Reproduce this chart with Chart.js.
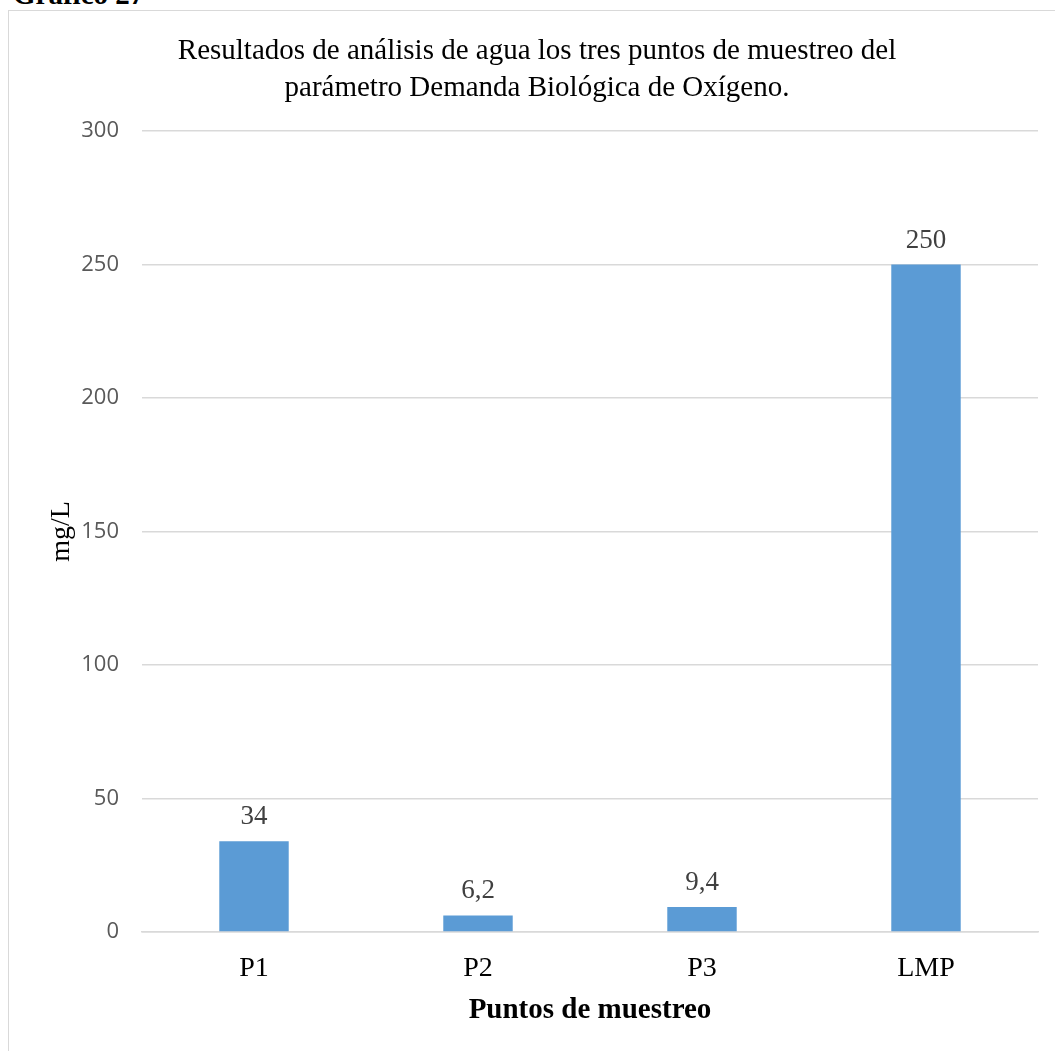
<!DOCTYPE html>
<html>
<head>
<meta charset="utf-8">
<script src="https://cdn.jsdelivr.net/npm/chart.js@4.4.0/dist/chart.umd.min.js"></script>
<style>
  html, body { margin: 0; padding: 0; background: #fff; overflow: hidden; width: 1055px; height: 1051px; }
  #heading { position: absolute; left: 13px; top: -20px; font: bold 29px "Liberation Serif", "Times New Roman", serif; line-height: 29px; color: #000; white-space: nowrap; }
  #frame { position: absolute; left: 8px; top: 10px; border-left: 1px solid #d9d9d9; border-top: 1px solid #d9d9d9; width: 1056px; height: 1040px; }
  #frame canvas { display: block; }
</style>
</head>
<body>
<div id="heading">Gráfico 27</div>
<div id="frame"><canvas id="bar-chart" width="1056" height="1040"></canvas></div>
<script>
var categories = ["P1", "P2", "P3", "LMP"];
var dboValues = [34, 6.2, 9.4, 250];
var yTicks = [0, 50, 100, 150, 200, 250, 300];
var chartTitle = ["Resultados de análisis de agua los tres puntos de muestreo del", "parámetro Demanda Biológica de Oxígeno."];

var serif = "'Liberation Serif', 'Times New Roman', serif";

// value labels above each bar, decimal comma like the original
var barLabels = {
  id: "barLabels",
  afterDatasetsDraw: function(chart) {
    var ctx = chart.ctx;
    var meta = chart.getDatasetMeta(0);
    ctx.save();
    ctx.font = "27px " + serif;
    ctx.fillStyle = "#404040";
    ctx.textAlign = "center";
    ctx.textBaseline = "alphabetic";
    meta.data.forEach(function(bar, i) {
      var txt = String(dboValues[i]).replace(".", ",");
      ctx.fillText(txt, bar.x, bar.y - 17);
    });
    ctx.restore();
  }
};

var config = {
  type: "bar",
  data: {
    labels: categories,
    datasets: [
      {
        data: dboValues,
        backgroundColor: "#5b9bd5",
        borderWidth: 0,
        categoryPercentage: 1,
        barPercentage: 0.31
      }
    ]
  },
  options: {
    responsive: false,
    animation: false,
    layout: { padding: { left: 27, right: 27, top: 0, bottom: 0 } },
    plugins: {
      legend: { display: false },
      tooltip: { enabled: false },
      title: {
        display: true,
        text: chartTitle,
        color: "#000",
        font: { family: serif, size: 29, weight: "normal", lineHeight: 1.276 },
        padding: { top: 22, bottom: 24 }
      }
    },
    scales: {
      x: {
        afterFit: function(scale) { scale.height = 119; },
        grid: { display: false, drawTicks: false },
        border: { display: true, color: "#d9d9d9", width: 1.5 },
        ticks: { color: "#000", font: { family: serif, size: 28 }, padding: 20 },
        title: {
          display: true,
          text: "Puntos de muestreo",
          color: "#000",
          font: { family: serif, size: 29, weight: "bold" },
          padding: { top: 0, bottom: 23 }
        }
      },
      y: {
        min: 0,
        max: 300,
        afterBuildTicks: function(scale) {
          scale.ticks = yTicks.map(function(v) { return { value: v }; });
        },
        afterFit: function(scale) { scale.width = 106; },
        grid: { color: "#d9d9d9", lineWidth: 1.5, drawTicks: false },
        border: { display: false },
        ticks: { color: "#595959", font: { family: "'Open Sans', sans-serif", size: 22 }, padding: 23 },
        title: {
          display: true,
          text: "mg/L",
          color: "#000",
          font: { family: serif, size: 28, weight: "normal" },
          padding: { top: 9, bottom: 0 }
        }
      }
    }
  },
  plugins: [barLabels]
};

var ctx = document.getElementById("bar-chart").getContext("2d");
window.myBar = new Chart(ctx, config);
</script>
</body>
</html>
